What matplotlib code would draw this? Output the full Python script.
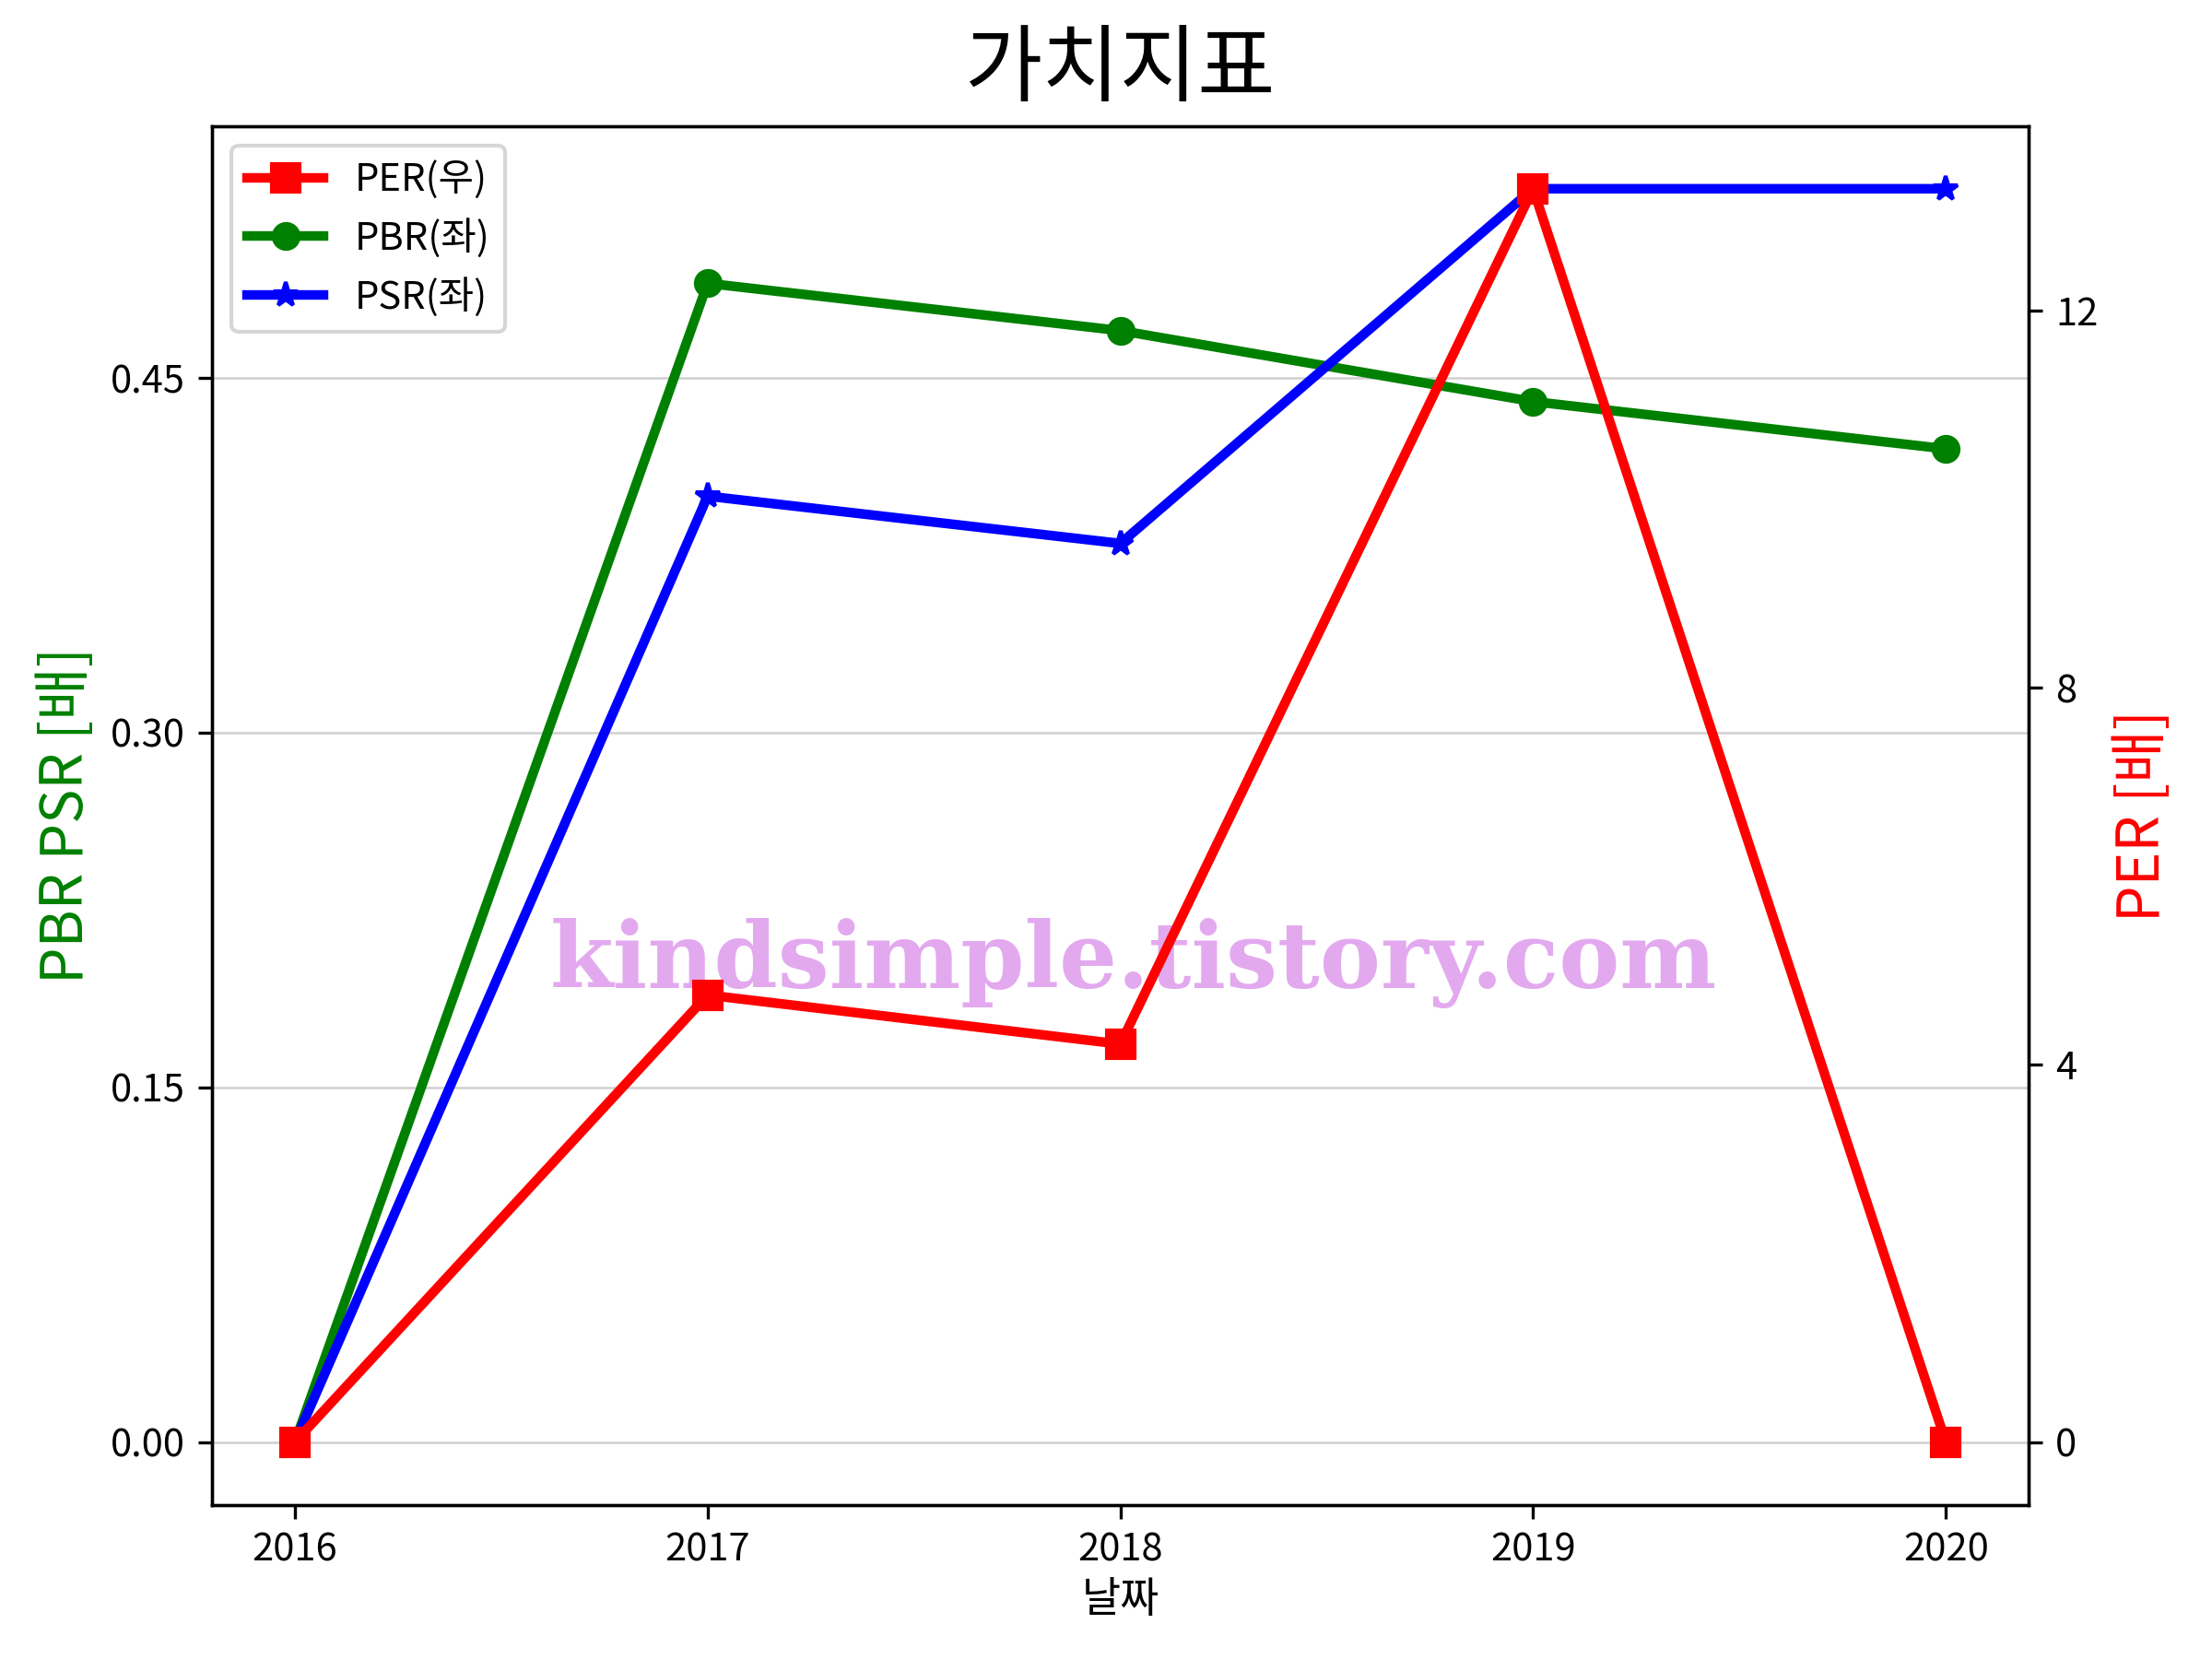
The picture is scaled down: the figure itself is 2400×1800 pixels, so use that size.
import matplotlib
matplotlib.use("Agg")
import matplotlib.pyplot as plt

plt.rcParams["font.family"] = ["Noto Sans CJK KR", "DejaVu Sans"]
plt.rcParams["axes.unicode_minus"] = False

# ── Data ────────────────────────────────────────────────
years = [2016, 2017, 2018, 2019, 2020]
per = [0.0, 4.74, 4.22, 13.29, 0.0]
pbr = [0.0, 0.49, 0.47, 0.44, 0.42]
psr = [0.0, 0.40, 0.38, 0.53, 0.53]
left_ticks = [0.00, 0.15, 0.30, 0.45]
right_ticks = [0, 4, 8, 12]

fig, ax = plt.subplots(figsize=(8, 6), dpi=300)
fig.subplots_adjust(left=0.096, right=0.917, bottom=0.093, top=0.924)
ax2 = ax.twinx()

l_pbr, = ax.plot(years, pbr, color="green", marker="o", lw=2.5, ms=6.5, label="PBR(좌)", zorder=3)
l_psr, = ax.plot(years, psr, color="blue", marker="*", lw=2.5, ms=6.5, label="PSR(좌)", zorder=3)
l_per, = ax2.plot(years, per, color="red", marker="s", lw=2.5, ms=7, label="PER(우)")

ax.set_yticks(left_ticks)
ax.set_yticklabels([f"{v:.2f}" for v in left_ticks])
ax2.set_yticks(right_ticks)
ax.set_xticks(years)
ax.grid(axis="y", color="#d0d0d0", lw=0.6)
ax.grid(axis="x", visible=False)

ax.set_xlabel("날짜", fontsize=11, labelpad=2)
ax.set_ylabel("PBR PSR [배]", color="green", fontsize=15)
ax2.set_ylabel("PER [배]", color="red", fontsize=15)
ax.set_title("가치지표", fontsize=22, pad=8)

ax.legend(handles=[l_per, l_pbr, l_psr], loc="upper left", fontsize=10)

# watermark (under the lines)
ax.text(0.507, 0.393, "kindsimple.tistory.com", transform=ax.transAxes,
        ha="center", va="center", fontsize=23.8, fontweight="bold",
        family="DejaVu Serif", color="#E3A9EF", zorder=1)

fig.savefig("out.png", dpi=300)
